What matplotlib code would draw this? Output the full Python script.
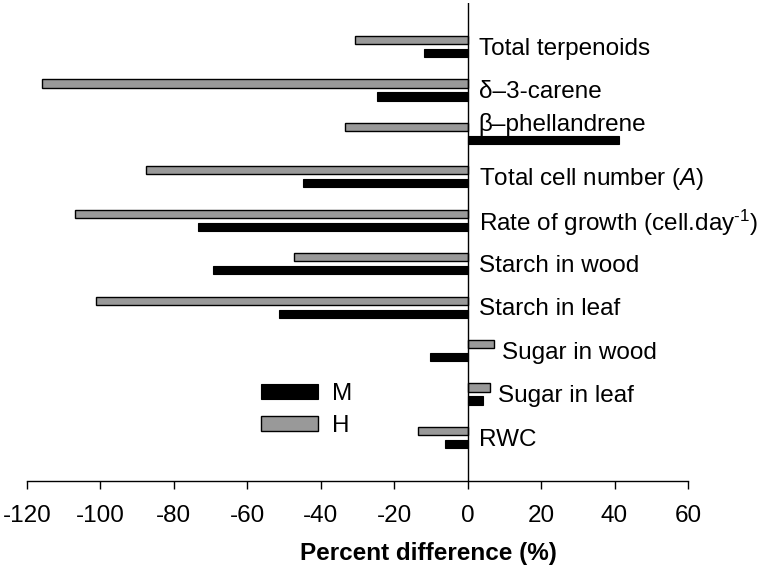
import matplotlib
matplotlib.use("Agg")
import matplotlib.pyplot as plt
import numpy as np

plt.rcParams['font.family'] = ['Liberation Sans', 'DejaVu Sans']
plt.rcParams['mathtext.fontset'] = 'custom'
plt.rcParams['mathtext.rm'] = 'Liberation Sans'
plt.rcParams['mathtext.it'] = 'Liberation Sans:italic'

categories = ['Total terpenoids', '\u03b4\u20133-carene', '\u03b2\u2013phellandrene',
              'Total cell number ($\\it{A}$)', 'Rate of growth (cell.day$^{\\text{-1}}$)',
              'Starch in wood', 'Starch in leaf', 'Sugar in wood', 'Sugar in leaf', 'RWC']
h_vals = [-30.7, -115.9, -33.3, -87.6, -107.0, -47.3, -101.1, 7.3, 6.2, -13.5]
m_vals = [-12.0, -24.7, 41.1, -44.9, -73.4, -69.3, -51.4, -10.3, 4.2, -6.3]
xticks = [-120, -100, -80, -60, -40, -20, 0, 20, 40, 60]

fs = 17.5
n = len(categories)
ypos = np.arange(n)[::-1]

fig = plt.figure(figsize=(7.58, 5.73), dpi=100)
ax = fig.add_axes([27/758, 1-481/573, 661/758, 478/573])

bh = 0.19
off = 0.15
ax.barh(ypos - off, m_vals, height=bh, color='black', edgecolor='black', lw=0.8, label='M')
ax.barh(ypos + off, h_vals, height=bh, color='#999999', edgecolor='black', lw=1.0, label='H')

# labels next to the zero line; pushed right / up where a bar crosses to the right
for y, lab, h, m in zip(ypos, categories, h_vals, m_vals):
    x = h + 2 if h > 0 else 3
    dy = 0.2 if m > 0 and h < 0 else -0.05
    ax.text(x, y + dy, lab, fontsize=fs, va='center', ha='left')

ax.axvline(0, color='black', lw=1)
ax.set_xlim(-120, 60)
ax.set_ylim(-1, 10)
ax.set_xticks(xticks)
ax.set_xticklabels([str(t) for t in xticks], fontsize=fs)
ax.set_yticks([])
ax.tick_params(axis='x', direction='out', length=6, width=1, pad=11)
for s in ['left', 'right', 'top']:
    ax.spines[s].set_visible(False)
ax.spines['bottom'].set_linewidth(1)

ax.set_xlabel('Percent difference (%)', fontsize=fs, fontweight='bold')
ax.xaxis.set_label_coords(0.607, -0.128)

ax.legend(loc='center left', bbox_to_anchor=(0.354, 0.148), frameon=False,
          fontsize=fs, borderpad=0, borderaxespad=0, handlelength=2.35,
          handleheight=0.58, handletextpad=0.58, labelspacing=0.42)

fig.savefig('out.png', dpi=100)
